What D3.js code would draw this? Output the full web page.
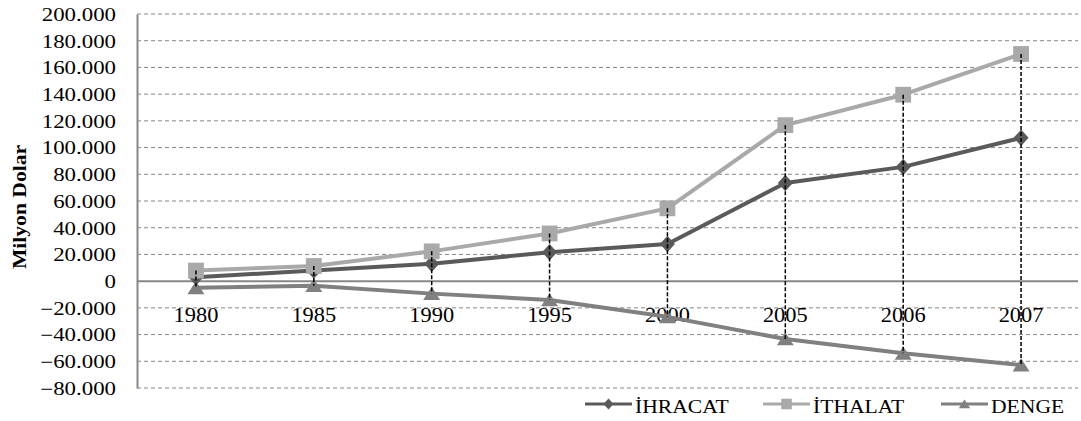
<!DOCTYPE html>
<html>
<head>
<meta charset="utf-8">
<script src="https://cdn.jsdelivr.net/npm/d3@7"></script>
<style>
  body { margin: 0; background: #fff; }
</style>
</head>
<body>
<svg id="chart" width="1081" height="421"></svg>
<script>
// chart data (milyon dolar)
const years = ["1980", "1985", "1990", "1995", "2000", "2005", "2006", "2007"];
const ihracat = [2910, 7958, 12959, 21637, 27775, 73476, 85535, 107272];
const ithalat = [7909, 11344, 22302, 35709, 54503, 116774, 139576, 170063];
const denge = [-4999, -3386, -9343, -14072, -26728, -43298, -54041, -62791];
const yTicks = [-80000, -60000, -40000, -20000, 0, 20000, 40000, 60000, 80000, 100000, 120000, 140000, 160000, 180000, 200000];

const series = [
  { name: "İHRACAT", values: ihracat, color: "#5a5a5a", shape: "diamond" },
  { name: "İTHALAT", values: ithalat, color: "#a9a9a9", shape: "square" },
  { name: "DENGE", values: denge, color: "#808080", shape: "triangle" }
];

const FONT = "Liberation Serif";
const svg = d3.select("#chart");
const mLeft = 137, mRight = 1080, mTop = 14, mBottom = 388;

const x = d3.scaleBand().domain(years).range([mLeft, mRight]);
const y = d3.scaleLinear().domain([-80000, 200000]).range([mBottom, mTop]);
const cx = d => x(d) + x.bandwidth() / 2;

const fmt = v => v === 0 ? "0" : d3.format(",")(v).replace(/,/g, ".");

// the original picture is a bit wider than normal text, stretch it
function stretch(sel, k) {
  sel.each(function() {
    const w = this.getComputedTextLength();
    d3.select(this).attr("textLength", w * k).attr("lengthAdjust", "spacingAndGlyphs");
  });
}

// custom marker shapes (wider than d3 defaults)
const diamond = { draw(ctx, size) { const r = Math.sqrt(size) / 2; ctx.moveTo(0, -r * 1.1); ctx.lineTo(r, 0); ctx.lineTo(0, r * 1.1); ctx.lineTo(-r, 0); ctx.closePath(); } };
const square = { draw(ctx, size) { const r = Math.sqrt(size) / 2; ctx.rect(-r, -r, 2 * r, 2 * r); } };
const triangle = { draw(ctx, size) { const r = Math.sqrt(size) / 2; ctx.moveTo(0, -r * 0.8); ctx.lineTo(r, r * 0.75); ctx.lineTo(-r, r * 0.75); ctx.closePath(); } };
const symbolFor = s => s === "diamond" ? diamond : s === "square" ? square : triangle;
const sizeFor = s => s === "diamond" ? 225 : s === "square" ? 250 : 290;

// gridlines
svg.append("g")
  .selectAll("line")
  .data(yTicks.filter(t => t !== 0))
  .join("line")
  .attr("x1", mLeft).attr("x2", mRight - 2)
  .attr("y1", d => y(d)).attr("y2", d => y(d))
  .attr("stroke", "#878787")
  .attr("stroke-width", 1)
  .attr("stroke-dasharray", "4,3");

// y axis
const yAxis = d3.axisLeft(y).tickValues(yTicks).tickFormat(fmt).tickSize(0).tickPadding(21);
const ga = svg.append("g").attr("transform", `translate(${mLeft},0)`).call(yAxis);
ga.attr("font-family", FONT);
ga.select(".domain").attr("stroke", "#878787").attr("stroke-width", 2);
const tickText = ga.selectAll("text")
  .style("font-family", FONT).style("font-size", "18px").attr("fill", "#000").attr("dy", "0.35em");
stretch(tickText, 1.27);

// zero line
svg.append("line")
  .attr("x1", mLeft).attr("x2", mRight - 2)
  .attr("y1", y(0)).attr("y2", y(0))
  .attr("stroke", "#878787").attr("stroke-width", 2);

// category labels under zero line
const catText = svg.append("g")
  .selectAll("text")
  .data(years)
  .join("text")
  .attr("x", d => cx(d))
  .attr("y", y(0) + 41)
  .attr("text-anchor", "middle")
  .style("font-family", FONT)
  .style("font-size", "20px")
  .text(d => d);
stretch(catText, 1.12);

// y title
const title = svg.append("text")
  .attr("transform", `translate(26,${(mTop + mBottom) / 2 + 6}) rotate(-90)`)
  .attr("text-anchor", "middle")
  .style("font-family", FONT)
  .style("font-size", "18px")
  .style("font-weight", "bold")
  .text("Milyon Dolar");
stretch(title, 1.2);

// lines
const line = d3.line().x((d, i) => cx(years[i])).y(d => y(d));
series.forEach(s => {
  svg.append("path")
    .datum(s.values)
    .attr("fill", "none")
    .attr("stroke", s.color)
    .attr("stroke-width", 4)
    .attr("stroke-linejoin", "round")
    .attr("d", line);
});

// markers
series.forEach(s => {
  svg.append("g")
    .selectAll("path")
    .data(s.values)
    .join("path")
    .attr("transform", (d, i) => `translate(${cx(years[i])},${y(d)})`)
    .attr("d", d3.symbol().type(symbolFor(s.shape)).size(sizeFor(s.shape)))
    .attr("fill", s.color);
});

// high-low lines
svg.append("g")
  .selectAll("line")
  .data(years)
  .join("line")
  .attr("x1", d => cx(d)).attr("x2", d => cx(d))
  .attr("y1", (d, i) => y(d3.max(series, s => s.values[i])))
  .attr("y2", (d, i) => y(d3.min(series, s => s.values[i])))
  .attr("stroke", "#000")
  .attr("stroke-width", 1.5)
  .attr("stroke-dasharray", "4,2");

// legend
const legendX = [585, 763, 941];
const lg = svg.append("g");
series.forEach((s, i) => {
  const g = lg.append("g").attr("transform", `translate(${legendX[i]},404)`);
  g.append("line").attr("x1", 0).attr("x2", 47).attr("y1", 0).attr("y2", 0)
    .attr("stroke", s.color).attr("stroke-width", 3);
  g.append("path")
    .attr("transform", "translate(23.5,0)")
    .attr("d", d3.symbol().type(symbolFor(s.shape)).size(sizeFor(s.shape) * 0.45))
    .attr("fill", s.color);
  const t = g.append("text")
    .attr("x", 50).attr("y", 9)
    .style("font-family", FONT)
    .style("font-size", "18px")
    .text(s.name);
  stretch(t, 1.2);
});
</script>
</body>
</html>
